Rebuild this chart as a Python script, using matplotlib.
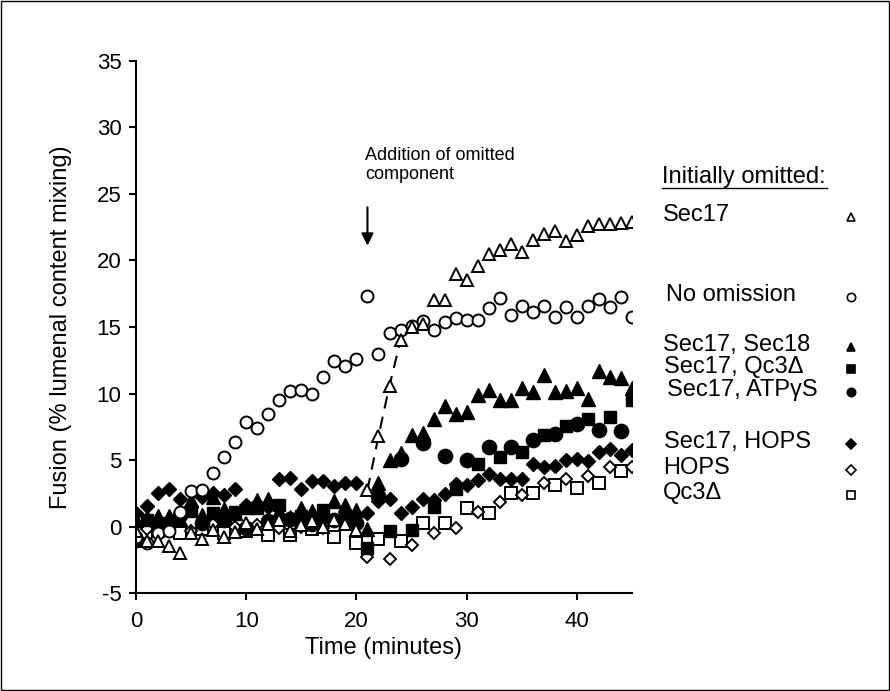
import matplotlib
matplotlib.use("Agg")
import matplotlib.pyplot as plt
from matplotlib.lines import Line2D
from matplotlib.patches import Rectangle

plt.rcParams['font.family'] = ['Liberation Sans', 'DejaVu Sans']
plt.rcParams['axes.unicode_minus'] = False

# minutes sampled every minute
t_all = [0, 1, 2, 3, 4, 5, 6, 7, 8, 9, 10, 11, 12, 13, 14, 15, 16, 17, 18, 19, 20, 21, 22,
         23, 24, 25, 26, 27, 28, 29, 30, 31, 32, 33, 34, 35, 36, 37, 38, 39, 40, 41, 42, 43, 44, 45]
# alternate sampling
t_odd = [1, 3, 5, 7, 9, 11, 13, 15, 17, 19, 21, 23, 25, 27, 29, 31, 33, 35, 37, 39, 41, 43, 45]
t_even = [0, 2, 4, 6, 8, 10, 12, 14, 16, 18, 20, 22, 24, 26, 28, 30, 32, 34, 36, 38, 40, 42, 44]

no_omission = [-0.8, -1.2, -0.5, -0.3, 1.1, 2.7, 2.75, 4.05, 5.2, 6.4, 7.9, 7.4, 8.45, 9.55, 10.2,
               10.25, 9.95, 11.25, 12.45, 12.1, 12.6, 17.3, 12.95, 14.55, 14.75, 15.05, 15.45, 14.8,
               15.4, 15.7, 15.5, 15.5, 16.4, 17.2, 15.9, 16.55, 16.1, 16.55, 15.75, 16.5, 15.75,
               16.55, 17.1, 16.5, 17.25, 15.75]
sec17 = [-0.3, -1.1, -1.1, -1.45, -1.95, -0.5, -0.9, -0.25, -0.75, -0.4, 0.3, -0.2, 0.2, 0.5, -0.3,
         0.1, 0.4, 0.0, 0.5, 0.2, -0.25, 2.75, 6.8, 10.6, 14.0, 15.0, 15.25, 17.0, 17.0, 18.95, 18.55,
         19.55, 20.5, 20.8, 21.25, 20.6, 21.55, 22.0, 22.2, 21.45, 21.9, 22.55, 22.75, 22.7, 22.8, 22.9]
sec17_sec18 = [0.5, 0.75, 0.8, 0.8, 0.6, 2.0, 0.9, 2.2, 1.3, 1.0, 1.5, 2.0, 2.1, 1.2, 0.75, 1.4, 1.2,
               0.8, 1.9, 1.6, 1.25, -0.2, 3.3, 5.0, 5.5, 6.9, 7.05, 8.1, 9.1, 8.5, 8.6, 9.9, 10.25,
               9.55, 9.55, 10.4, 10.1, 11.4, 10.15, 10.2, 10.4, 9.6, 11.7, 11.25, 11.15, 10.4]
sec17_hops = [1.05, 1.55, 2.5, 2.85, 2.1, 1.5, 2.25, 2.5, 2.4, 2.8, 1.6, 1.7, 1.5, 3.55, 3.65, 2.8,
              3.45, 3.45, 3.05, 3.25, 3.3, 1.0, 1.9, 2.1, 1.0, 1.5, 2.1, 2.0, 2.45, 3.2, 3.1, 3.5,
              3.95, 3.55, 3.55, 3.6, 4.7, 4.5, 4.55, 5.0, 5.1, 4.9, 5.6, 5.8, 5.4, 5.75]
sec17_qc3 = [0.5, 0.3, 1.2, 1.0, 1.1, 1.4, 1.65, 0.8, 1.25, 0.7, -1.6, -0.35, -0.25, 1.45, 2.85,
             4.7, 5.2, 5.6, 6.9, 7.6, 8.1, 8.25, 9.5]
sec17_atpgs = [-1.0, -0.3, 0.9, 0.3, 0.5, -0.1, 0.4, 0.6, 0.2, 0.5, 0.3, 2.3, 5.1, 6.3, 5.3, 5.0,
               6.0, 6.0, 6.5, 7.0, 7.7, 7.25, 7.2]
hops = [-0.2, 0.0, -0.3, 0.2, 0.0, 0.1, -0.1, 0.0, -0.1, 0.3, -2.25, -2.45, -1.35, -0.5, -0.1, 1.1,
        1.85, 2.35, 3.3, 3.6, 3.8, 4.45, 4.5]
qc3 = [0.5, -0.3, -0.5, -0.2, -0.5, -0.3, -0.6, -0.6, -0.2, -0.75, -1.2, -0.9, -1.1, 0.3, 0.25, 1.4,
       1.0, 2.5, 2.55, 3.15, 2.9, 3.3, 4.15]

W, H = 890, 691
fig = plt.figure(figsize=(W / 100, H / 100), dpi=100)
ax = fig.add_axes([136 / W, 1 - 593.3 / H, 496 / W, 532.6 / H])

mew = 1.4
ax.plot(t_even, qc3, 's', ms=8.4, mfc='white', mec='black', mew=mew, ls='none')
ax.plot(t_odd, hops, 'D', ms=6.3, mfc='white', mec='black', mew=mew, ls='none')
ax.plot(t_all, sec17_hops, 'D', ms=6.8, color='black', ls='none')
ax.plot(t_even, sec17_atpgs, 'o', ms=10.3, color='black', ls='none')
ax.plot(t_odd, sec17_qc3, 's', ms=9, color='black', ls='none')
ax.plot(t_all, sec17_sec18, '^', ms=10.3, color='black', ls='none')
ax.plot(t_all, no_omission, 'o', ms=8.6, mfc='white', mec='black', mew=mew, ls='none')
# dashed line after Sec17 addition
ax.plot(t_all[21:25], sec17[21:25], ls=(0, (6, 4)), color='black', lw=1.5)
ax.plot(t_all, sec17, '^', ms=8.8, mfc='white', mec='black', mew=mew, ls='none')

ax.set_xlim(0, 45)
ax.set_ylim(-5, 35)
ax.set_xticks([0, 10, 20, 30, 40])
ax.set_yticks([-5, 0, 5, 10, 15, 20, 25, 30, 35])
for s in ['top', 'right']:
    ax.spines[s].set_visible(False)
for s in ['left', 'bottom']:
    ax.spines[s].set_linewidth(1.5)
ax.tick_params(direction='out', length=5, width=1.5, labelsize=16)
ax.tick_params(axis='x', pad=8)
ax.tick_params(axis='y', pad=5.5)

ax.set_xlabel('Time (minutes)', fontsize=17, labelpad=3)
fig.text(61 / W, 1 - 327 / H, 'Fusion (% lumenal content mixing)', rotation=90,
         ha='center', va='center', fontsize=17)

# annotation for addition
ax.annotate('', xy=(21, 20.9), xytext=(21, 24.2),
            arrowprops=dict(arrowstyle='-|>', color='black', lw=1.5, mutation_scale=18))
ax.text(20.8, 27.2, 'Addition of omitted\ncomponent', fontsize=13, ha='left', va='center',
        linespacing=1.15)

# hand-made legend
fig.text(662 / W, 1 - 177 / H, 'Initially omitted:', fontsize=17, ha='left', va='center')
fig.add_artist(Line2D([662 / W, 827 / W], [1 - 188 / H, 1 - 188 / H], color='black', lw=1))

legend_rows = [
    ('Sec17', 663, 215, '^', 'white'),
    ('No omission', 666, 295, 'o', 'white'),
    ('Sec17, Sec18', 663, 345, '^', 'black'),
    ('Sec17, Qc3\u0394', 664, 367, 's', 'black'),
    ('Sec17, ATP\u03b3S', 667, 390, 'o', 'black'),
    ('Sec17, HOPS', 664, 442, 'D', 'black'),
    ('HOPS', 663, 468, 'D', 'white'),
    ('Qc3\u0394', 663, 493, 's', 'white'),
]
for label, lx, ly, mk, fc in legend_rows:
    fig.text(lx / W, 1 - ly / H, label, fontsize=17, ha='left', va='center')
    size = 6 if mk != 'D' else 5
    fig.add_artist(Line2D([851 / W], [1 - (ly + 2) / H], marker=mk, ms=size, mfc=fc,
                          mec='black', mew=1.2, ls='none'))

# frame around the whole figure
fig.add_artist(Rectangle((0.001, 0.001), 0.998, 0.997, transform=fig.transFigure,
                         fill=False, edgecolor='black', lw=1))

fig.savefig('out.png', dpi=100)
